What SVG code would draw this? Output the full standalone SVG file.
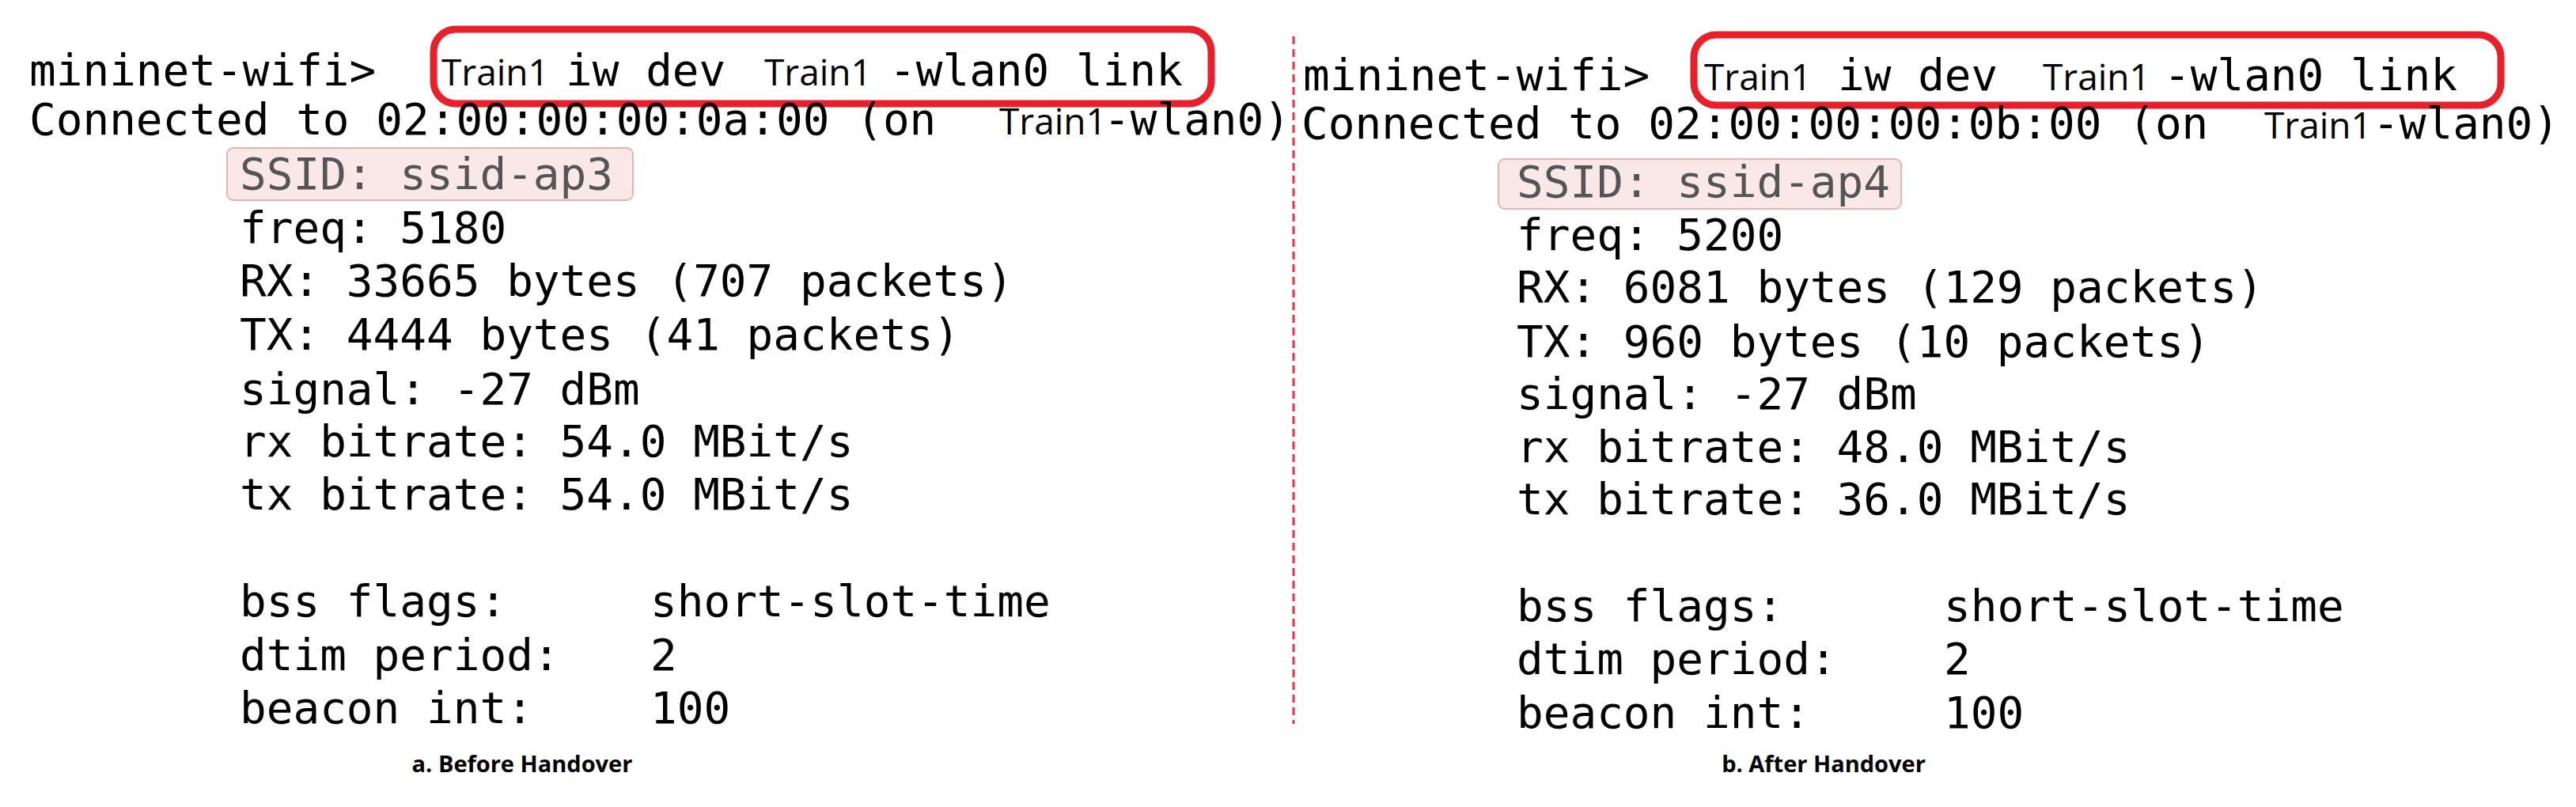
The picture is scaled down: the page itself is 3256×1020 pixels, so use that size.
<svg xmlns="http://www.w3.org/2000/svg" width="3256" height="1020" viewBox="0 0 3256 1020">
<style>
.m{font-family:"DejaVu Sans Mono",monospace;font-size:56px;fill:#000}
.s{font-family:"Open Sans","Noto Sans",sans-serif;font-size:46px;fill:#000}
.hl{fill:#fae8e8;stroke:#e6b3b3;stroke-width:2}
.box{fill:none;stroke:#e8202a;stroke-width:9}
.cap{font-family:"Open Sans","Noto Sans",sans-serif;font-size:29px;font-weight:bold;text-anchor:middle;fill:#000}
</style>
<rect width="3256" height="1020" fill="#fff"/>
<g id="divider"><line x1="1635" y1="46" x2="1635" y2="915" stroke="#f0303a" stroke-width="3" stroke-dasharray="10,6"/></g>
<g id="left">
<rect class="hl" x="287" y="187" width="513" height="66" rx="8"/>
<rect class="box" x="548" y="37" width="983" height="94" rx="28"/>
<text class="m" x="37" y="108">mininet-wifi&gt;</text>
<text class="s" x="558" y="108">Train1</text>
<text class="m" x="715" y="108">iw dev</text>
<text class="s" x="966" y="108">Train1</text>
<text class="m" x="1124" y="108">-wlan0 link</text>
<text class="m" x="37" y="170">Connected to 02:00:00:00:0a:00 (on</text>
<text class="s" x="1263" y="170">Train1</text>
<text class="m" x="1395" y="170">-wlan0)</text>
<text class="m" x="303" y="239" style="fill:#555">SSID: ssid-ap3</text>
<text class="m" x="303" y="307">freq: 5180</text>
<text class="m" x="303" y="374">RX: 33665 bytes (707 packets)</text>
<text class="m" x="303" y="442">TX: 4444 bytes (41 packets)</text>
<text class="m" x="303" y="511">signal: -27 dBm</text>
<text class="m" x="303" y="577">rx bitrate: 54.0 MBit/s</text>
<text class="m" x="303" y="644">tx bitrate: 54.0 MBit/s</text>
<text class="m" x="303" y="779">bss flags:</text><text class="m" x="822" y="779">short-slot-time</text>
<text class="m" x="303" y="847">dtim period:</text><text class="m" x="822" y="847">2</text>
<text class="m" x="303" y="914">beacon int:</text><text class="m" x="822" y="914">100</text>
<text class="cap" x="660" y="976">a. Before Handover</text>
</g>
<g id="right">
<rect class="hl" x="1894" y="201" width="509" height="63" rx="8"/>
<rect class="box" x="2141" y="44" width="1020" height="89" rx="28"/>
<text class="m" x="1647" y="114">mininet-wifi&gt;</text>
<text class="s" x="2154" y="114">Train1</text>
<text class="m" x="2323" y="114">iw dev</text>
<text class="s" x="2582" y="114">Train1</text>
<text class="m" x="2735" y="114">-wlan0 link</text>
<text class="m" x="1645" y="175">Connected to 02:00:00:00:0b:00 (on</text>
<text class="s" x="2862" y="175">Train1</text>
<text class="m" x="2999" y="175">-wlan0)</text>
<text class="m" x="1917" y="249" style="fill:#555">SSID: ssid-ap4</text>
<text class="m" x="1917" y="316">freq: 5200</text>
<text class="m" x="1917" y="382">RX: 6081 bytes (129 packets)</text>
<text class="m" x="1917" y="451">TX: 960 bytes (10 packets)</text>
<text class="m" x="1917" y="517">signal: -27 dBm</text>
<text class="m" x="1917" y="584">rx bitrate: 48.0 MBit/s</text>
<text class="m" x="1917" y="650">tx bitrate: 36.0 MBit/s</text>
<text class="m" x="1917" y="785">bss flags:</text><text class="m" x="2457" y="785">short-slot-time</text>
<text class="m" x="1917" y="852">dtim period:</text><text class="m" x="2457" y="852">2</text>
<text class="m" x="1917" y="920">beacon int:</text><text class="m" x="2457" y="920">100</text>
<text class="cap" x="2305" y="976">b. After Handover</text>
</g>
</svg>
